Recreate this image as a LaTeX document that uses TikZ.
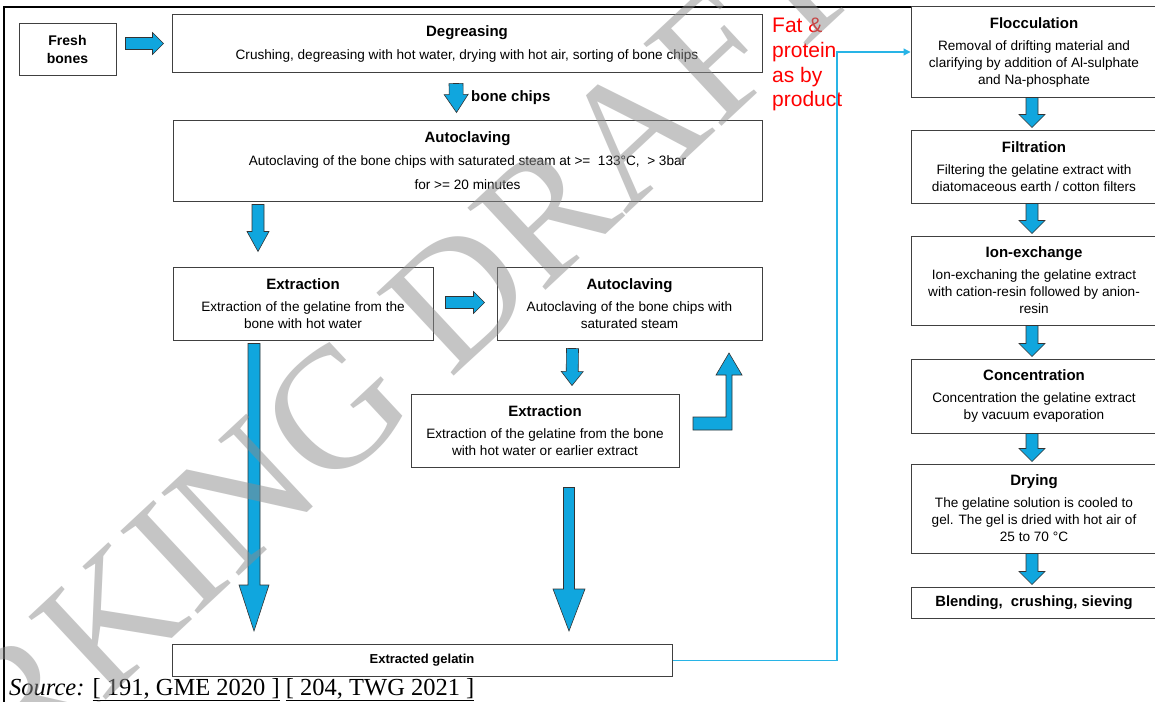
\documentclass[tikz,border=0pt]{standalone}
\usepackage{fontspec}
\setmainfont{Liberation Sans}
\newfontfamily\wmserif{Liberation Serif}
\usepackage{tikz}
\usetikzlibrary{calc,arrows.meta}
\definecolor{arrowblue}{RGB}{16,166,222}
\definecolor{feedblue}{RGB}{40,180,230}
\newcommand{\boxtitle}[1]{{\bfseries\fontsize{15}{17}\selectfont #1}}
\newcommand{\blockarrow}[5]{%
  \coordinate (ba-s) at #1;
  \coordinate (ba-t) at #2;
  \coordinate (ba-h) at ($(ba-t)!#5!(ba-s)$);
  \filldraw[blockarr] ($(ba-s)!#3!90:(ba-t)$) -- ($(ba-h)!#3!-90:(ba-s)$) -- ($(ba-h)!#4!-90:(ba-s)$) -- (ba-t) -- ($(ba-h)!#4!90:(ba-s)$) -- ($(ba-h)!#3!90:(ba-s)$) -- ($(ba-s)!#3!-90:(ba-t)$) -- cycle;}
\tikzset{
  stepbox/.style={draw=black!75, line width=1pt, fill=white, align=center, inner sep=0pt, font=\fontsize{13.6}{17}\selectfont},
  blockarr/.style={fill=arrowblue, draw=black!80, line width=0.6pt, line join=miter},
  watermark/.style={font=\wmserif\fontsize{173}{173}\selectfont, text=black!45, opacity=0.5, inner sep=0pt}
}
\begin{document}
\begin{tikzpicture}[x=1pt,y=-1pt]
    \useasboundingbox (0,0) rectangle (1155,701);
    \begin{scope}
        \clip (0,0) rectangle (1155,701);
        \fill[white] (0,0) rectangle (1155,701);
        \draw[line width=2.5pt] (4,710) -- (4,7) -- (1165,7);
        \node[stepbox, minimum width=97, minimum height=51, font=\bfseries\fontsize{14}{18}\selectfont] (fresh) at (67.5,49.5) {Fresh\\bones};
        \node[stepbox, minimum width=590, minimum height=57] (degr) at (467,43.5) {\boxtitle{Degreasing}\\[6pt]Crushing, degreasing with hot water, drying with hot air, sorting of bone chips};
        \node[stepbox, minimum width=589, minimum height=81] (auto1) at (467.5,160.5) {\boxtitle{Autoclaving}\\[6pt]Autoclaving of the bone chips with saturated steam at >=\ \ 133°C,\ \ > 3bar\\[7pt]for >= 20 minutes};
        \node[stepbox, minimum width=260, minimum height=73] (ext1) at (303,303.5) {\boxtitle{Extraction}\\[5pt]Extraction of the gelatine from the\\bone with hot water};
        \node[stepbox, minimum width=265, minimum height=73] (auto2) at (629.5,303.5) {\boxtitle{Autoclaving}\\[5pt]Autoclaving of the bone chips with\\saturated steam};
        \node[stepbox, minimum width=268, minimum height=73] (ext2) at (545,430.5) {\boxtitle{Extraction}\\[5pt]Extraction of the gelatine from the bone\\with hot water or earlier extract};
        \node[stepbox, minimum width=500, minimum height=32, font=\bfseries\fontsize{13}{15}\selectfont] (gel) at (422,660.5) {Extracted gelatin};
        \node[stepbox, minimum width=246, minimum height=90] (floc) at (1034,52) {\boxtitle{Flocculation}\\[5pt]Removal of drifting material and\\clarifying by addition of Al-sulphate\\and Na-phosphate};
        \node[stepbox, minimum width=246, minimum height=73] (filt) at (1034,166.5) {\boxtitle{Filtration}\\[5pt]Filtering the gelatine extract with\\diatomaceous earth / cotton filters};
        \node[stepbox, minimum width=246, minimum height=89] (ion) at (1034,280.5) {\boxtitle{Ion-exchange}\\[5pt]Ion-exchaning the gelatine extract\\with cation-resin followed by anion-\\resin};
        \node[stepbox, minimum width=246, minimum height=74] (conc) at (1034,396) {\boxtitle{Concentration}\\[5pt]Concentration the gelatine extract\\by vacuum evaporation};
        \node[stepbox, minimum width=246, minimum height=89] (dry) at (1034,508.5) {\boxtitle{Drying}\\[5pt]The gelatine solution is cooled to\\gel. The gel is dried with hot air of\\25 to 70 °C};
        \node[stepbox, minimum width=246, minimum height=31, font=\bfseries\fontsize{14.8}{17}\selectfont] (blend) at (1034,602.5) {Blending,\ \ crushing, sieving};
        \node[anchor=west, font=\bfseries\fontsize{15}{17}\selectfont, inner sep=0pt] (chips) at (471,98) {bone chips};
        \node[anchor=north west, align=left, text=red, font=\fontsize{21}{24.7}\selectfont, inner sep=0pt] (fat) at (772,18) {Fat \&\\protein\\as by\\product};
        \coordinate (bend) at (837,52);
        \draw[feedblue, line width=1.2pt, -{Triangle[length=7pt,width=7pt]}] (gel.east) -| (bend) -- (floc.west);
        \blockarrow{($(fresh.east |- degr.west)+(9,0)$)}{($(degr.west)+(-8,0)$)}{6pt}{11pt}{11pt}
        \blockarrow{($(degr.south)+(-11,11)$)}{($(auto1.north)+(-11,-7)$)}{7pt}{12pt}{18pt}
        \blockarrow{($(auto1.south -| ext1.north)+(-45,3)$)}{($(ext1.north)+(-45,-15)$)}{6pt}{11pt}{20pt}
        \blockarrow{($(ext1.east)+(12,-1)$)}{($(auto2.west)+(-12,-1)$)}{6pt}{11pt}{11pt}
        \blockarrow{($(auto2.south)+(-57,8)$)}{($(ext2.north)+(27,-8)$)}{6pt}{11pt}{14pt}
        \blockarrow{($(ext1.south)+(-49,3)$)}{($(gel.north)+(-168,-13)$)}{6pt}{15pt}{46pt}
        \blockarrow{($(ext2.south)+(24,20)$)}{($(gel.north)+(147,-13)$)}{5.5pt}{16pt}{42pt}
        \filldraw[blockarr] (693,417) -- (726,417) -- (726,375) -- (716,375) -- (729,353) -- (742,375) -- (732,375) -- (732,430) -- (693,430) -- cycle;
        \blockarrow{($(floc.south)+(-2,0)$)}{($(filt.north)+(-2,-2)$)}{6pt}{13pt}{13pt}
        \blockarrow{($(filt.south)+(-2,0)$)}{($(ion.north)+(-2,-2)$)}{6pt}{13pt}{13pt}
        \blockarrow{($(ion.south)+(-2,0)$)}{($(conc.north)+(-2,-2)$)}{6pt}{13pt}{13pt}
        \blockarrow{($(conc.south)+(-2,0)$)}{($(dry.north)+(-2,-2)$)}{6pt}{13pt}{13pt}
        \blockarrow{($(dry.south)+(-2,0)$)}{($(blend.north)+(-2,-2)$)}{6pt}{13pt}{13pt}
        \node[anchor=base west, inner sep=0pt, font=\wmserif\fontsize{24.5}{27}\selectfont] (src) at (9,695) {\textit{Source:} \underline{[ 191, GME 2020 ]} \underline{[ 204, TWG 2021 ]}};
        \node[watermark, rotate=43] (wm) at (298,445) {WORKING DRAFT};
    \end{scope}
\end{tikzpicture}
\end{document}
